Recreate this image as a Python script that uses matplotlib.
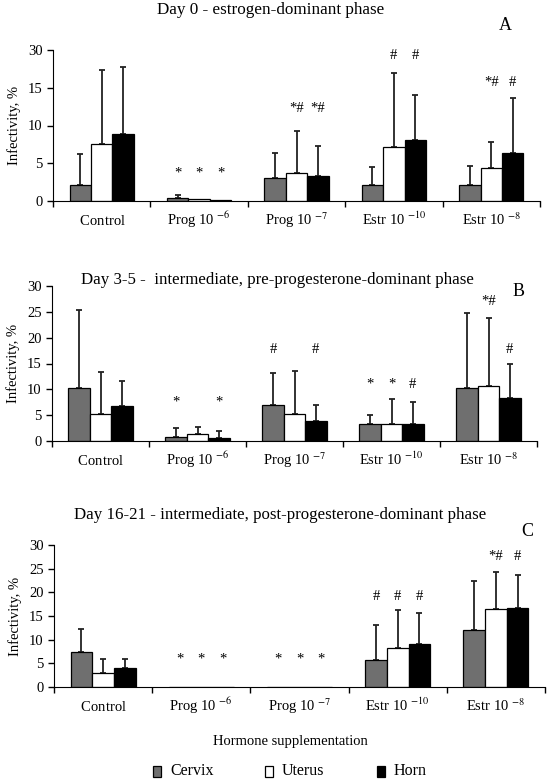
import numpy as np
import matplotlib
matplotlib.use("Agg")
import matplotlib.pyplot as plt
from matplotlib.transforms import offset_copy

plt.rcParams['font.family'] = ['Liberation Serif', 'DejaVu Serif']
plt.rcParams['mathtext.fontset'] = 'stix'

W, H = 552, 784

groups = [r"$\,$Control$\,$", r"Prog 10 $^{-6}$", r"Prog 10 $^{-7}$",
          r"Estr 10 $^{-10}$", r"Estr 10 $^{-8}$"]
tissues = ["Cervix", "Uterus", "Horn"]

# Day 0 - estrogen-dominant phase (mean, SD)
a_cervix = [2.15, 0.35, 3.1, 2.15, 2.15]
a_cervix_sd = [4.1, 0.4, 3.2, 2.35, 2.55]
a_uterus = [7.6, 0.22, 3.75, 7.1, 4.4]
a_uterus_sd = [9.7, 0, 5.55, 9.8, 3.4]
a_horn = [8.9, 0.18, 3.26, 8.1, 6.4]
a_horn_sd = [8.9, 0, 4.04, 6.0, 7.2]

# Day 3-5
b_cervix = [10.3, 0.84, 6.95, 3.2, 10.2]
b_cervix_sd = [15.0, 1.76, 6.15, 1.9, 14.5]
b_uterus = [5.15, 1.35, 5.3, 3.35, 10.7]
b_uterus_sd = [8.25, 1.45, 8.3, 4.75, 13.2]
b_horn = [6.7, 0.64, 3.8, 3.35, 8.4]
b_horn_sd = [4.95, 1.26, 3.1, 4.15, 6.5]

# Day 16-21
c_cervix = [7.5, 0, 0, 5.7, 12.1]
c_cervix_sd = [4.7, 0, 0, 7.4, 10.3]
c_uterus = [3.0, 0, 0, 8.3, 16.5]
c_uterus_sd = [2.9, 0, 0, 7.9, 7.8]
c_horn = [4.1, 0, 0, 9.0, 16.7]
c_horn_sd = [1.8, 0, 0, 6.6, 6.9]

# significance marks: (group, tissue, text, y)
a_marks = [(1, 0, "*", 3.7), (1, 1, "*", 3.7), (1, 2, "*", 3.7),
           (2, 1, "*#", 12.2), (2, 2, "*#", 12.2),
           (3, 1, "#", 19.3), (3, 2, "#", 19.3),
           (4, 1, "*#", 15.7), (4, 2, "#", 15.7)]
b_marks = [(1, 0, "*", 7.5), (1, 2, "*", 7.5),
           (2, 0, "#", 17.8), (2, 2, "#", 17.8),
           (3, 0, "*", 11), (3, 1, "*", 11), (3, 2, "#", 11),
           (4, 1, "*#", 27), (4, 2, "#", 17.7)]
c_marks = [(1, 0, "*", 5.9), (1, 1, "*", 5.9), (1, 2, "*", 5.9),
           (2, 0, "*", 5.9), (2, 1, "*", 5.9), (2, 2, "*", 5.9),
           (3, 0, "#", 19.2), (3, 1, "#", 19.2), (3, 2, "#", 19.2),
           (4, 1, "*#", 27.6), (4, 2, "#", 27.6)]

colors = ["#6f6f6f", "white", "black"]
bw = 0.22


def px_axes(left, top, right, bottom):
    return fig.add_axes([left / W, 1 - bottom / H, (right - left) / W, (bottom - top) / H])


def panel(ax, means, sds, marks, ymax, yticks, ylabels):
    x = np.arange(len(groups)) + 0.5
    for i, (m, s) in enumerate(zip(means, sds)):
        xi = x + (i - 1) * bw
        ax.bar(xi, m, bw, color=colors[i], edgecolor="black", linewidth=0.9, zorder=2)
        m = np.array(m); s = np.array(s)
        ok = s > 0
        ax.errorbar(xi[ok], m[ok], yerr=[np.zeros(ok.sum()), s[ok]], fmt="none",
                    ecolor="#222222", elinewidth=1.3, capsize=2.5, capthick=1.3, zorder=1)
    for g, t, txt, y in marks:
        ax.text(x[g] + (t - 1) * bw, y, txt, ha="center", va="center", fontsize=10.5)
    ax.set_xlim(0, len(groups))
    ax.set_ylim(0, ymax)
    ax.set_yticks(yticks)
    ax.set_yticklabels(ylabels, fontsize=10.5)
    ax.set_xticks(np.arange(len(groups) + 1))
    ax.set_xticklabels([])
    # group names, all on one baseline
    tr = offset_copy(ax.get_xaxis_transform(), fig=fig, y=-24, units="dots")
    for xg, name in zip(x, groups):
        ax.text(xg, 0, name, transform=tr, ha="center", va="baseline", fontsize=10.5)
    ax.tick_params(axis="both", which="major", direction="out", length=4, width=1)
    ax.spines["top"].set_visible(False)
    ax.spines["right"].set_visible(False)
    ax.set_ylabel("Infectivity, %", fontsize=10.5, labelpad=5)


fig = plt.figure(figsize=(W / 100, H / 100), dpi=100)

ax1 = px_axes(53, 50, 540, 201)
panel(ax1, [a_cervix, a_uterus, a_horn], [a_cervix_sd, a_uterus_sd, a_horn_sd], a_marks,
      20, [0, 5, 10, 15, 20], ["0", "5", "10", "15", "30"])
ax2 = px_axes(52, 286, 537, 441)
panel(ax2, [b_cervix, b_uterus, b_horn], [b_cervix_sd, b_uterus_sd, b_horn_sd], b_marks,
      30, range(0, 31, 5), [str(v) for v in range(0, 31, 5)])
ax3 = px_axes(54, 545, 545, 687)
panel(ax3, [c_cervix, c_uterus, c_horn], [c_cervix_sd, c_uterus_sd, c_horn_sd], c_marks,
      30, range(0, 31, 5), [str(v) for v in range(0, 31, 5)])


def ftext(x, y, s, **kw):
    fig.text(x / W, 1 - y / H, s, ha="center", va="center", **kw)


ftext(271, 10, "Day 0 - estrogen-dominant phase", fontsize=12.3)
ftext(505, 25, "A", fontsize=13)
ftext(277, 280, "Day 3-5 -  intermediate, pre-progesterone-dominant phase", fontsize=12.2)
ftext(519, 291, "B", fontsize=13)
ftext(280, 515, "Day 16-21 - intermediate, post-progesterone-dominant phase", fontsize=12.2)
ftext(527, 531, "C", fontsize=13)
ftext(290, 742, "Hormone supplementation", fontsize=10.5)

leg_x = [157, 269, 381]
for i, name in enumerate(tissues):
    fig.patches.append(plt.Rectangle(((leg_x[i] - 4) / W, 1 - 777 / H), 8 / W, 11 / H,
                                     transform=fig.transFigure, facecolor=colors[i],
                                     edgecolor="black", linewidth=0.9))
    fig.text((leg_x[i] + 13) / W, 1 - 771 / H, name, ha="left", va="center", fontsize=11.5)

fig.savefig("out.png", dpi=100)
